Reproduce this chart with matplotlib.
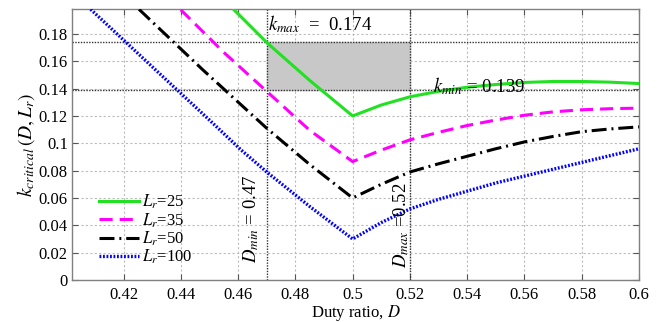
import numpy as np
import matplotlib
matplotlib.use('Agg')
import matplotlib.pyplot as plt
from matplotlib.ticker import FormatStrFormatter

plt.rcParams['font.family'] = ['Liberation Serif', 'DejaVu Serif']
plt.rcParams['mathtext.fontset'] = 'stix'

# critical k versus duty ratio for each resonant inductance ratio Lr
D_25 = [0.4584, 0.47, 0.485, 0.50, 0.51, 0.52, 0.53, 0.54, 0.55, 0.56, 0.57, 0.58, 0.59, 0.60]
k_25 = [0.198, 0.1737, 0.146, 0.120, 0.128, 0.134, 0.138, 0.141, 0.143, 0.1445, 0.1452, 0.1452, 0.1447, 0.1437]

D_35 = [0.44, 0.455, 0.47, 0.485, 0.50, 0.51, 0.52, 0.53, 0.54, 0.55, 0.56, 0.57, 0.58, 0.59, 0.60]
k_35 = [0.1976, 0.1665, 0.138, 0.1095, 0.0866, 0.095, 0.1025, 0.108, 0.113, 0.117, 0.1205, 0.123, 0.1245, 0.1253, 0.1257]

D_50 = [0.4254, 0.4477, 0.47, 0.485, 0.50, 0.51, 0.52, 0.53, 0.54, 0.55, 0.56, 0.57, 0.58, 0.59, 0.60]
k_50 = [0.198, 0.1537, 0.111, 0.0845, 0.060, 0.070, 0.079, 0.085, 0.0905, 0.096, 0.101, 0.105, 0.1085, 0.1105, 0.112]

D_100 = [0.4085, 0.43, 0.45, 0.461, 0.47, 0.485, 0.50, 0.51, 0.52, 0.53, 0.54, 0.55, 0.56, 0.57, 0.58, 0.59, 0.60]
k_100 = [0.198, 0.156, 0.117, 0.0952, 0.079, 0.0538, 0.030, 0.042, 0.052, 0.059, 0.065, 0.071, 0.076, 0.081, 0.086, 0.091, 0.096]

labels = ['$L_r$=25', '$L_r$=35', '$L_r$=50', '$L_r$=100']

# operating window
D_min = 0.47
D_max = 0.52
k_min = 0.139
k_max = 0.174

fig = plt.figure(figsize=(6.61, 3.22), dpi=100)
ax = fig.add_axes([72/661, 1-280/322, (639-72)/661, (280-9.3)/322])

ax.grid(True, color='#bcbcbc', linestyle=(0, (2, 2)), linewidth=0.8)
ax.set_axisbelow(True)

# shaded region between the limits
ax.fill_between([D_min, D_max], k_min, k_max, color='#c8c8c8', zorder=1)
ax.axhline(k_max, color='#333333', linestyle=(0, (1, 1)), linewidth=1.0, zorder=2)
ax.axhline(k_min, color='#333333', linestyle=(0, (1, 1)), linewidth=1.0, zorder=2)
ax.axvline(D_min, color='#333333', linestyle=(0, (1, 1)), linewidth=1.0, zorder=2)
ax.axvline(D_max, color='#333333', linestyle=(0, (1, 1)), linewidth=1.0, zorder=2)

ax.plot(D_25, k_25, color='#22e022', linewidth=2.2, label=labels[0], zorder=3)
ax.plot(D_35, k_35, color='#ff00ff', linewidth=2.2, linestyle=(0, (4.3, 2.3)), label=labels[1], zorder=3)
ax.plot(D_50, k_50, color='black', linewidth=2.2, linestyle=(0, (4.9, 1.6, 0.65, 1.6)), label=labels[2], zorder=3)
ax.plot(D_100, k_100, color='#0000ff', linewidth=2.4, linestyle=(0, (0.55, 0.5)), label=labels[3], zorder=3)

ax.text(0.4706, 0.1825, '$k_{max}$  =  0.174', fontsize=13.5, ha='left', va='baseline')
ax.text(0.5279, 0.1375, '$k_{min}$ = 0.139', fontsize=13.5, ha='left', va='baseline')
ax.text(0.4647, 0.0446, '$D_{min}$ = 0.47', fontsize=13.5, rotation=90, ha='center', va='center')
ax.text(0.5168, 0.0403, '$D_{max}$ =0.52', fontsize=13.5, rotation=90, ha='center', va='center')

ax.set_xlim(0.402, 0.6)
ax.set_ylim(0, 0.198)
ax.set_xticks(np.arange(0.42, 0.601, 0.02))
ax.set_yticks(np.arange(0, 0.181, 0.02))
ax.xaxis.set_major_formatter(FormatStrFormatter('%g'))
ax.yaxis.set_major_formatter(FormatStrFormatter('%g'))
ax.tick_params(direction='in', length=4, top=True, right=True, labelsize=12, color='#555555')
ax.tick_params(axis='x', pad=5)
ax.tick_params(axis='y', pad=3)
for s in ax.spines.values():
    s.set_color('#808080')
    s.set_linewidth(1.0)

ax.set_xlabel('Duty ratio, $D$', fontsize=12, labelpad=0)
ax.set_ylabel('$k_{critical}\\,(D,L_r)$', fontsize=14, labelpad=1)

ax.legend(loc='center left', bbox_to_anchor=(0.033, 0.186), frameon=False, fontsize=12,
          borderpad=0, handlelength=2.4, handletextpad=0.15, labelspacing=0.0)

fig.savefig('out.png', dpi=100)
